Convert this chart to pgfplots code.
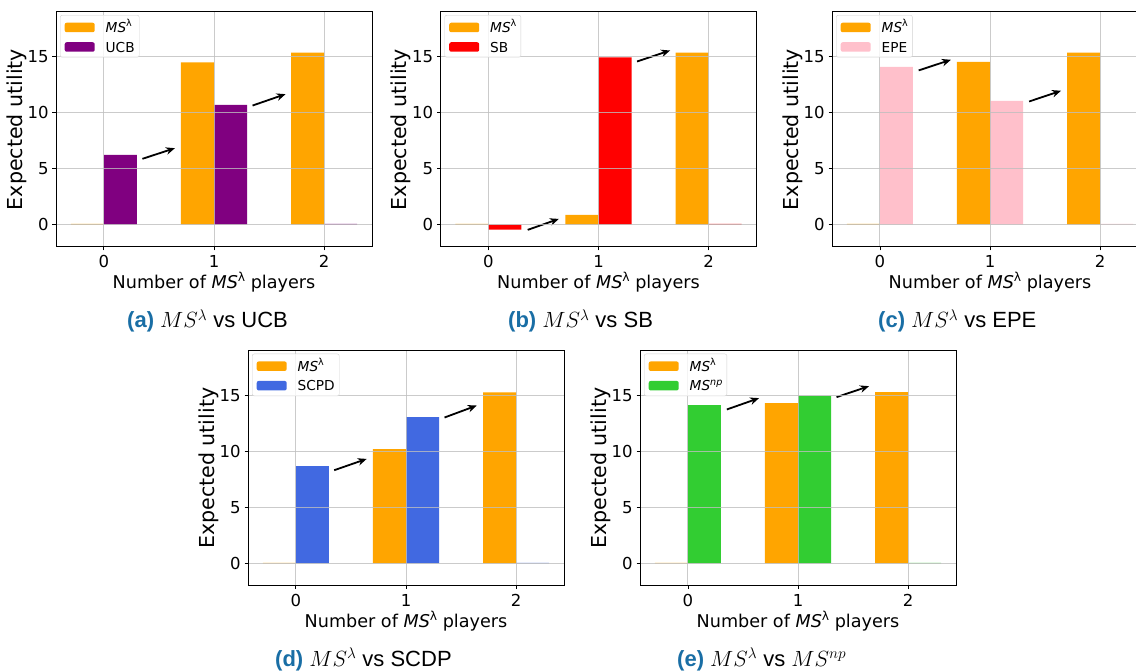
\RequirePackage{fix-cm}
\documentclass[border=0pt]{standalone}
\usepackage{fontspec}
\setmainfont{DejaVu Sans}
\newfontfamily\capfont{Liberation Sans}
\usepackage{pgfplots}
\pgfplotsset{compat=1.18}
\usetikzlibrary{arrows.meta}
\definecolor{capblue}{RGB}{25,110,165}
\definecolor{mypurple}{RGB}{128,0,128}
\definecolor{myorange}{RGB}{255,165,0}
\definecolor{mypink}{RGB}{255,192,203}
\definecolor{myblue}{RGB}{65,105,225}
\definecolor{mygreen}{RGB}{50,205,50}
\definecolor{myred}{RGB}{255,0,0}
\definecolor{gridgray}{RGB}{190,190,190}
\definecolor{legedge}{RGB}{210,210,210}
\newcommand{\MSl}[1]{\textit{MS}\raisebox{0.42em}{\fontsize{#1}{#1}\selectfont λ}}
\newcommand{\MSnp}[1]{\textit{MS}\raisebox{0.42em}{\fontsize{#1}{#1}\selectfont\textit{np}}}
\tikzset{arr/.style={-{Stealth[length=9pt,width=7.5pt]}, line width=1.8pt, black}}
\pgfplotsset{
  sub/.style={
    scale only axis, width=316pt, height=235pt, anchor=south west,
    xmin=-0.435, xmax=2.435, ymin=-2, ymax=19,
    xtick={0,1,2}, ytick={0,5,10,15},
    /pgf/number format/assume math mode=true,
    tick label style={font=\fontsize{16.5}{18}\selectfont},
    xticklabel style={inner sep=0pt, yshift=-4.7pt},
    yticklabel style={inner sep=0pt, xshift=-3.7pt},
    tick align=outside, major tick length=3.5pt,
    tick style={black, line width=0.8pt},
    xtick pos=bottom, ytick pos=left,
    grid=major,
    major grid style={color=gridgray, line width=1pt, opacity=0.8},
    axis on top,
    axis line style={black, line width=1pt},
    xlabel={Number of \MSl{12.3pt} players},
    ylabel={Expected utility},
    xlabel style={font=\fontsize{17.6}{20}\selectfont, inner sep=0pt, anchor=north, at={(axis description cs:0.5,-0.106)}},
    ylabel style={font=\fontsize{20.6}{23}\selectfont, inner sep=0pt, anchor=south, at={(axis description cs:-0.092,0.5)}},
    ybar, bar width=0.3, bar shift=0pt,
    legend image code/.code={\fill[##1,draw=none,fill opacity=1] (0pt,0.5pt) rectangle (30pt,10pt);},
    legend cell align=left,
    legend style={at={(axis description cs:0.0127,0.987)}, anchor=north west,
      draw=legedge, rounded corners=2pt, fill=white, fill opacity=0.8, text opacity=1,
      font=\fontsize{13.7}{15}\selectfont, inner xsep=4.5pt, inner ysep=1.5pt, row sep=0pt,
      nodes={inner sep=0pt, anchor=base west, text height=16pt, text depth=3.5pt},
      /tikz/every odd column/.append style={column sep=11pt}},
  }
}
\begin{document}
\begin{tikzpicture}
% (a)
\begin{axis}[sub, at={(56pt,424pt)}]
\addplot[fill=myorange, draw=none] coordinates {(-0.15,0.06) (0.85,14.49) (1.85,15.36)};
\addlegendentry{\MSl{9.6pt}}
\addplot[fill=mypurple, draw=none] coordinates {(0.15,6.23) (1.15,10.71) (2.15,0.06)};
\addlegendentry{UCB}
\draw[arr] (axis cs:0.35,5.88) -- (axis cs:0.645,6.83);
\draw[arr] (axis cs:1.35,10.64) -- (axis cs:1.65,11.66);
\end{axis}
% (b)
\begin{axis}[sub, at={(440.5pt,424pt)}]
\addplot[fill=myorange, draw=none] coordinates {(-0.15,0.06) (0.85,0.87) (1.85,15.36)};
\addlegendentry{\MSl{9.6pt}}
\addplot[fill=myred, draw=none] coordinates {(0.15,-0.45) (1.15,14.94) (2.15,0.06)};
\addlegendentry{SB}
\draw[arr] (axis cs:0.357,-0.47) -- (axis cs:0.64,0.51);
\draw[arr] (axis cs:1.35,14.58) -- (axis cs:1.65,15.56);
\end{axis}
% (c)
\begin{axis}[sub, at={(832pt,424pt)}]
\addplot[fill=myorange, draw=none] coordinates {(-0.15,0.06) (0.85,14.55) (1.85,15.36)};
\addlegendentry{\MSl{9.6pt}}
\addplot[fill=mypink, draw=none] coordinates {(0.15,14.1) (1.15,11.06) (2.15,0.06)};
\addlegendentry{EPE}
\draw[arr] (axis cs:0.352,13.78) -- (axis cs:0.645,14.73);
\draw[arr] (axis cs:1.355,11.0) -- (axis cs:1.645,11.96);
\end{axis}
% (d)
\begin{axis}[sub, at={(248pt,85.3pt)}]
\addplot[fill=myorange, draw=none] coordinates {(-0.15,0.04) (0.85,10.2) (1.85,15.27)};
\addlegendentry{\MSl{9.6pt}}
\addplot[fill=myblue, draw=none] coordinates {(0.15,8.68) (1.15,13.06) (2.15,0.04)};
\addlegendentry{SCPD}
\draw[arr] (axis cs:0.348,8.32) -- (axis cs:0.643,9.33);
\draw[arr] (axis cs:1.35,13.03) -- (axis cs:1.643,14.1);
\end{axis}
% (e)
\begin{axis}[sub, at={(640pt,85.3pt)}]
\addplot[fill=myorange, draw=none] coordinates {(-0.15,0.04) (0.85,14.31) (1.85,15.3)};
\addlegendentry{\MSl{9.6pt}}
\addplot[fill=mygreen, draw=none] coordinates {(0.15,14.13) (1.15,14.97) (2.15,0.04)};
\addlegendentry{\MSnp{9.6pt}}
\draw[arr] (axis cs:0.354,13.75) -- (axis cs:0.646,14.76);
\draw[arr] (axis cs:1.35,14.85) -- (axis cs:1.645,15.83);
\end{axis}
% captions
\begin{scope}[every node/.style={anchor=base west, inner sep=0pt, font=\capfont\fontsize{22}{26}\selectfont}]
\node at (127pt,343pt) {\textcolor{capblue}{\bfseries (a)} $MS^{\lambda}$ vs UCB};
\node at (508pt,343pt) {\textcolor{capblue}{\bfseries (b)} $MS^{\lambda}$ vs SB};
\node at (878pt,343pt) {\textcolor{capblue}{\bfseries (c)} $MS^{\lambda}$ vs EPE};
\node at (275pt,4.5pt) {\textcolor{capblue}{\bfseries (d)} $MS^{\lambda}$ vs SCDP};
\node at (677pt,4.5pt) {\textcolor{capblue}{\bfseries (e)} $MS^{\lambda}$ vs $MS^{np}$};
\end{scope}
\pgfresetboundingbox
\path[use as bounding box] (0pt,0pt) rectangle (1136pt,671pt);
\end{tikzpicture}
\end{document}
